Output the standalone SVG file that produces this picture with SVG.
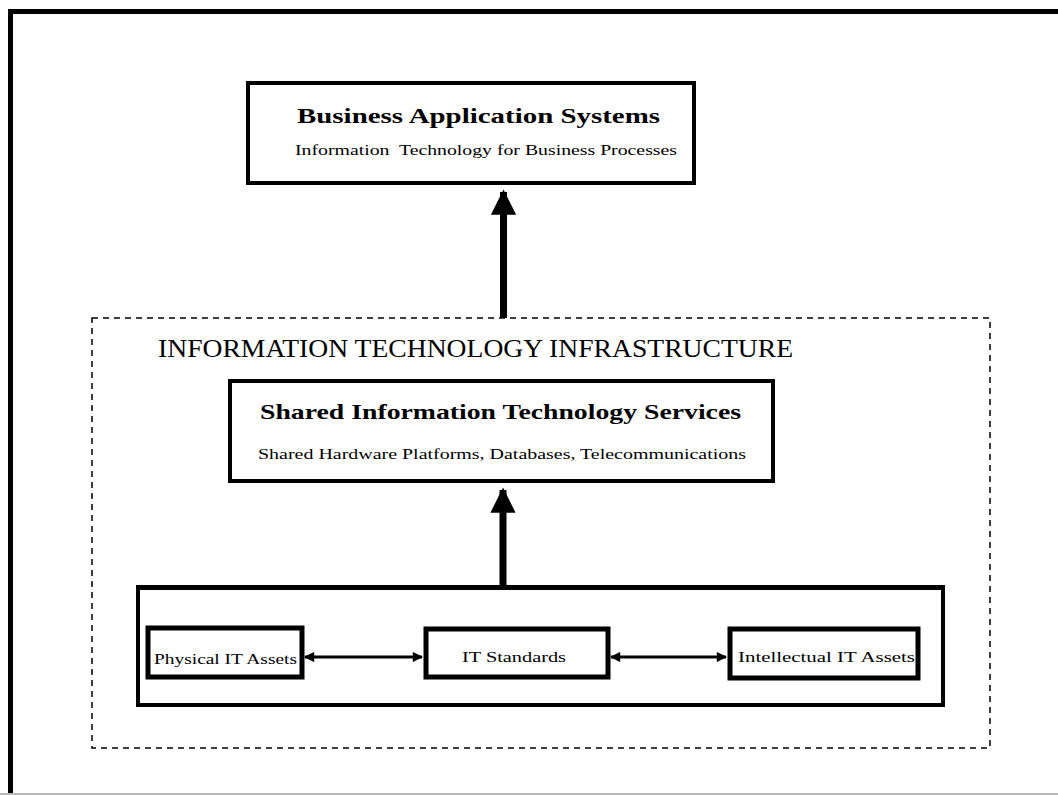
<svg xmlns="http://www.w3.org/2000/svg" width="1058" height="795" viewBox="0 0 1058 795">
  <style>
    .frame { fill: none; stroke: #000; stroke-width: 5; }
    .box { fill: #fff; stroke: #000; stroke-width: 4; }
    .small { fill: #fff; stroke: #000; stroke-width: 5; }
    .zone { fill: none; stroke: #000; stroke-width: 1.5; stroke-dasharray: 6 5; }
    .title { font-family: "Liberation Serif", "Times New Roman", serif; font-weight: bold; font-size: 22px; fill: #000; }
    .sub { font-family: "Liberation Serif", "Times New Roman", serif; font-size: 14px; fill: #000; }
    .zlabel { font-family: "Liberation Serif", "Times New Roman", serif; font-size: 26px; fill: #000; }
    .lbl { font-family: "Liberation Serif", "Times New Roman", serif; font-size: 15px; fill: #000; }
    .shaft { stroke: #000; stroke-width: 7; fill: none; }
    .link { stroke: #000; stroke-width: 3; fill: none; }
  </style>
  <defs>
    <marker id="head" viewBox="0 0 10 10" refX="9" refY="5" markerWidth="3.6" markerHeight="3.6" orient="auto" markerUnits="strokeWidth">
      <path d="M0,0 L10,5 L0,10 z" fill="#000"/>
    </marker>
    <marker id="tip" viewBox="0 0 10 10" refX="9" refY="5" markerWidth="4" markerHeight="3.4" orient="auto-start-reverse" markerUnits="strokeWidth">
      <path d="M0,0 L10,5 L0,10 z" fill="#000"/>
    </marker>
  </defs>

  <rect width="1058" height="795" fill="#fff"/>

  <!-- page frame -->
  <g id="frame">
    <path class="frame" d="M10.5,800 V11.5 H1070"/>
    <line x1="0" y1="794" x2="1058" y2="794" stroke="#b8b8b8" stroke-width="2"/>
  </g>

  <!-- infrastructure zone -->
  <g id="infrastructure">
    <rect class="zone" x="92" y="318" width="898" height="430"/>
    <text class="zlabel" x="158" y="357" textLength="635" lengthAdjust="spacingAndGlyphs">INFORMATION TECHNOLOGY INFRASTRUCTURE</text>
  </g>

  <!-- connectors -->
  <g id="connectors">
    <line class="shaft" x1="503.5" y1="318" x2="503.5" y2="192" marker-end="url(#head)"/>
    <line class="shaft" x1="503" y1="586" x2="503" y2="490" marker-end="url(#head)"/>
    <line class="link" x1="305" y1="657" x2="422" y2="657" marker-start="url(#tip)" marker-end="url(#tip)"/>
    <line class="link" x1="611" y1="657" x2="726" y2="657" marker-start="url(#tip)" marker-end="url(#tip)"/>
  </g>

  <g id="business-apps">
    <rect class="box" x="248" y="83" width="446" height="100"/>
    <text class="title" x="297" y="123" textLength="363" lengthAdjust="spacingAndGlyphs">Business Application Systems</text>
    <text class="sub" x="295" y="155" textLength="382" lengthAdjust="spacingAndGlyphs" xml:space="preserve">Information  Technology for Business Processes</text>
  </g>

  <g id="shared-services">
    <rect class="box" x="230" y="381" width="543" height="100"/>
    <text class="title" x="260" y="419" textLength="481" lengthAdjust="spacingAndGlyphs">Shared Information Technology Services</text>
    <text class="sub" x="258" y="459" textLength="488" lengthAdjust="spacingAndGlyphs">Shared Hardware Platforms, Databases, Telecommunications</text>
  </g>

  <g id="it-assets">
    <path d="M138,705 V587 H943 V705 Z" fill="none" stroke="#000" stroke-width="4"/>
    <line x1="136" y1="587.5" x2="945" y2="587.5" stroke="#000" stroke-width="5"/>
  </g>

  <g id="physical-assets">
    <rect class="small" x="148" y="628" width="154" height="49"/>
    <text class="lbl" x="154" y="664" textLength="143" lengthAdjust="spacingAndGlyphs">Physical IT Assets</text>
  </g>

  <g id="it-standards">
    <rect class="small" x="426" y="629" width="182" height="48"/>
    <text class="lbl" x="462" y="662" textLength="104" lengthAdjust="spacingAndGlyphs">IT Standards</text>
  </g>

  <g id="intellectual-assets">
    <rect class="small" x="730" y="629" width="188" height="49"/>
    <text class="lbl" x="738" y="662" textLength="177" lengthAdjust="spacingAndGlyphs">Intellectual IT Assets</text>
  </g>
</svg>
